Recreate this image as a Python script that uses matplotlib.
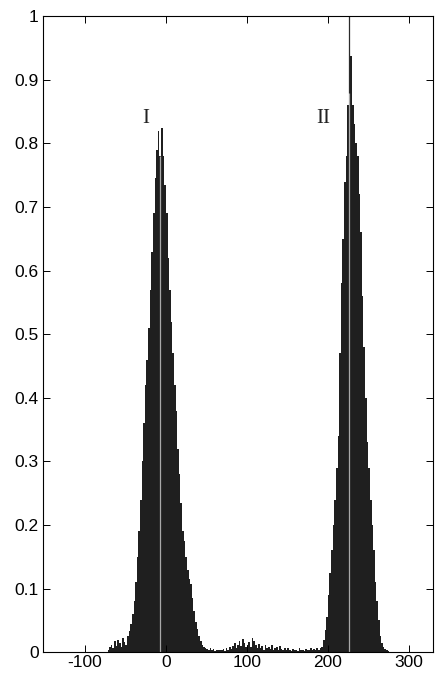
import numpy as np
import matplotlib
matplotlib.use("Agg")
import matplotlib.pyplot as plt

# histogram, 2-unit bins
BIN_W = 2

# peak I, bins starting at -72
peak1_start = -72
peak1 = [0.004, 0.008, 0.012, 0.006, 0.018, 0.010, 0.020, 0.014, 0.008, 0.022,
         0.016, 0.012, 0.026, 0.034, 0.045, 0.060, 0.080, 0.110, 0.150, 0.190,
         0.240, 0.300, 0.360, 0.420, 0.460, 0.510, 0.570, 0.630, 0.690, 0.745,
         0.790, 0.820, 0.780, 0.825, 0.780, 0.735, 0.690, 0.620, 0.570, 0.520,
         0.470, 0.420, 0.380, 0.320, 0.280, 0.235, 0.190, 0.175, 0.150, 0.130,
         0.115, 0.108, 0.085, 0.065, 0.048, 0.036, 0.026, 0.018, 0.012, 0.008,
         0.006, 0.005, 0.004, 0.006, 0.003, 0.005, 0.002, 0.004, 0.003]

# low noise between the peaks, bins starting at 66
gap_start = 66
gap = [0.004, 0.003, 0.005, 0.002, 0.006, 0.004, 0.008, 0.005, 0.010, 0.014,
       0.006, 0.012, 0.018, 0.010, 0.021, 0.015, 0.008, 0.012, 0.016, 0.009,
       0.022, 0.018, 0.011, 0.007, 0.013, 0.006, 0.010, 0.004, 0.012, 0.007,
       0.009, 0.005, 0.011, 0.004, 0.006, 0.008, 0.003, 0.010, 0.005, 0.004,
       0.007, 0.003, 0.006, 0.004, 0.002, 0.005, 0.003, 0.004, 0.002, 0.006,
       0.003, 0.004, 0.002, 0.005, 0.003, 0.004, 0.006, 0.003, 0.005, 0.004,
       0.006]

# peak II, bins starting at 188
peak2_start = 188
peak2 = [0.004, 0.006, 0.008, 0.020, 0.035, 0.055, 0.090, 0.125, 0.160, 0.200,
         0.240, 0.290, 0.340, 0.470, 0.580, 0.650, 0.740, 0.780, 0.860, 0.900,
         0.937, 0.860, 0.830, 0.800, 0.780, 0.720, 0.660, 0.560, 0.480, 0.400,
         0.330, 0.290, 0.240, 0.200, 0.160, 0.110, 0.080, 0.050, 0.025, 0.014,
         0.008, 0.005, 0.004, 0.002]

# peak centre markers
marker_x = [-7.5, 226]
marker_inner_top = [0.78, 0.88]
label_x = [-25, 194]
label_y = [0.84, 0.84]
label_txt = ["I", "II"]

plt.rcParams['font.family'] = ['Liberation Sans', 'DejaVu Sans']
plt.rcParams['axes.unicode_minus'] = False

fig = plt.figure(figsize=(4.37, 6.78), dpi=100)
ax = fig.add_axes([0.098, 0.038, 0.893, 0.938])

for start, vals in [(peak1_start, peak1), (gap_start, gap), (peak2_start, peak2)]:
    edges = start + BIN_W * np.arange(len(vals) + 1)
    ax.stairs(vals, edges, fill=True, color="#1f1f1f", linewidth=0)

# dark line above peak II up to the top
ax.vlines(marker_x[1], marker_inner_top[1], 1.0, color="#2a2a2a", lw=0.9)
for mx, mt in zip(marker_x, marker_inner_top):
    ax.vlines(mx, 0, mt, color="#a8a8a8", lw=0.9)

for lx, ly, t in zip(label_x, label_y, label_txt):
    ax.text(lx, ly, t, family=['Liberation Serif', 'DejaVu Serif'], fontsize=15,
            ha="center", va="center", color="#222222")

ax.set_xlim(-152, 330)
ax.set_ylim(0, 1)
ax.set_xticks([-100, 0, 100, 200, 300])
ax.set_yticks(np.arange(0, 1.01, 0.1))
ax.set_yticklabels(["0", "0.1", "0.2", "0.3", "0.4", "0.5", "0.6", "0.7", "0.8", "0.9", "1"])
ax.tick_params(direction="in", top=True, right=True, length=5, width=0.7,
               labelsize=12.5, pad=3)
ax.tick_params(axis="x", pad=2)
for s in ax.spines.values():
    s.set_linewidth(0.8)

fig.savefig("out.png", dpi=100)
